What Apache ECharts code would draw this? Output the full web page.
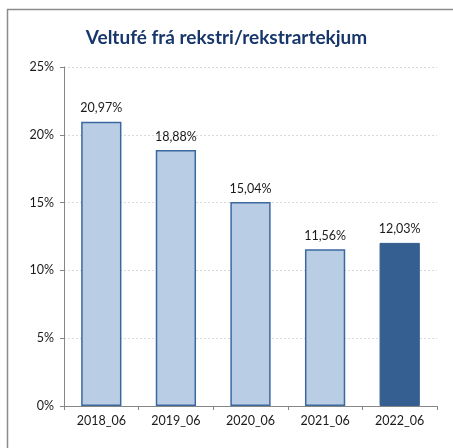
<!DOCTYPE html>
<html><head><meta charset="utf-8">
<script src="https://cdn.jsdelivr.net/npm/echarts@6/dist/echarts.min.js"></script>
<style>html,body{margin:0;padding:0;background:#fff}#c{width:453px;height:448px}</style>
</head><body><div id="c"></div>
<script>
const categories = ['2018_06','2019_06','2020_06','2021_06','2022_06'];
const values = [20.97, 18.88, 15.04, 11.56, 12.03];
const yTicks = [0, 5, 10, 15, 20, 25];
const title = 'Veltufé frá rekstri/rekstrartekjum';
const FONT = 'Lato';
const chart = echarts.init(document.getElementById('c'), null, {renderer:'canvas'});
chart.setOption({
  animation:false,
  backgroundColor:'#fff',
  title:{text:title,left:'center',top:23,textStyle:{fontFamily:FONT,fontWeight:'bold',fontSize:19,color:'#17366B'}},
  graphic:[{type:'rect',shape:{x:7.5,y:9.5,width:470,height:470},style:{fill:'none',stroke:'#8C8C8C',lineWidth:1.5},silent:true}],
  grid:{left:64,right:16,top:67,bottom:42,containLabel:false},
  xAxis:{type:'category',data:categories,
    axisLine:{lineStyle:{color:'#868686'}},
    axisTick:{show:true,length:4,lineStyle:{color:'#868686'}},
    axisLabel:{fontFamily:FONT,fontSize:12.5,color:'#1a1a1a',margin:8}},
  yAxis:{type:'value',min:yTicks[0],max:yTicks[yTicks.length-1],interval:5,
    axisLine:{show:true,lineStyle:{color:'#868686'}},
    axisTick:{show:true,length:4,lineStyle:{color:'#868686'}},
    axisLabel:{fontFamily:FONT,fontSize:12.5,color:'#1a1a1a',margin:10,formatter:v=>v+'%'},
    splitLine:{lineStyle:{color:'#D9D9D9',type:[2,2]}}},
  series:[{type:'bar',barWidth:'54%',
    data:values.map((v,i)=>({value:v,itemStyle:i===values.length-1?{color:'#365F91',borderColor:'#365F91',borderWidth:1}:{color:'#B9CDE5',borderColor:'#3C68A0',borderWidth:1.5}})),
    label:{show:true,position:'top',distance:7,fontFamily:FONT,fontSize:12.5,color:'#1a1a1a',formatter:p=>p.value.toFixed(2).replace('.',',')+'%'}}]
});
</script></body></html>
